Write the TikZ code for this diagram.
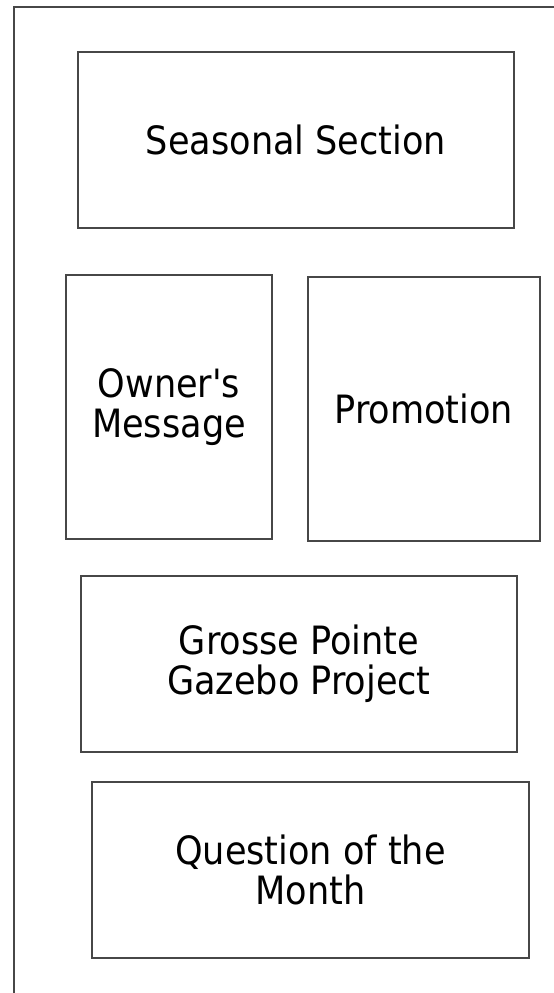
\documentclass[tikz,border=0pt]{standalone}
\usepackage{fontspec}
\newfontfamily\panelfont{DejaVu Sans Condensed}
\begin{document}
\begin{tikzpicture}[x=1pt,y=-1pt,
  framecol/.style={draw=black!72, line width=1.5pt},
  panel/.style={framecol, fill=white, inner sep=0pt, align=center,
     font=\panelfont\fontsize{39}{40}\selectfont, text=black}]
\useasboundingbox (0,0) rectangle (554,993);
\coordinate (fbl) at (14,993);
\coordinate (ftl) at (14,7);
\coordinate (ftr) at (554,7);
\draw[framecol] (fbl) -- (ftl) -- (ftr);
\node[panel, minimum width=436pt, minimum height=176pt] (seasonal) at (296,140) {Seasonal Section};
\node[panel, minimum width=206pt, minimum height=264pt] (owner) at (169,407) {Owner's\\Message};
\node[panel, minimum width=232pt, minimum height=264pt] (promo) at (424,409) {Promotion};
\node[panel, minimum width=436pt, minimum height=176pt] (gazebo) at (299,664) {Grosse Pointe\\Gazebo Project};
\node[panel, minimum width=437pt, minimum height=176pt] (question) at (310.5,870) {Question of the\\Month};
\end{tikzpicture}
\end{document}
